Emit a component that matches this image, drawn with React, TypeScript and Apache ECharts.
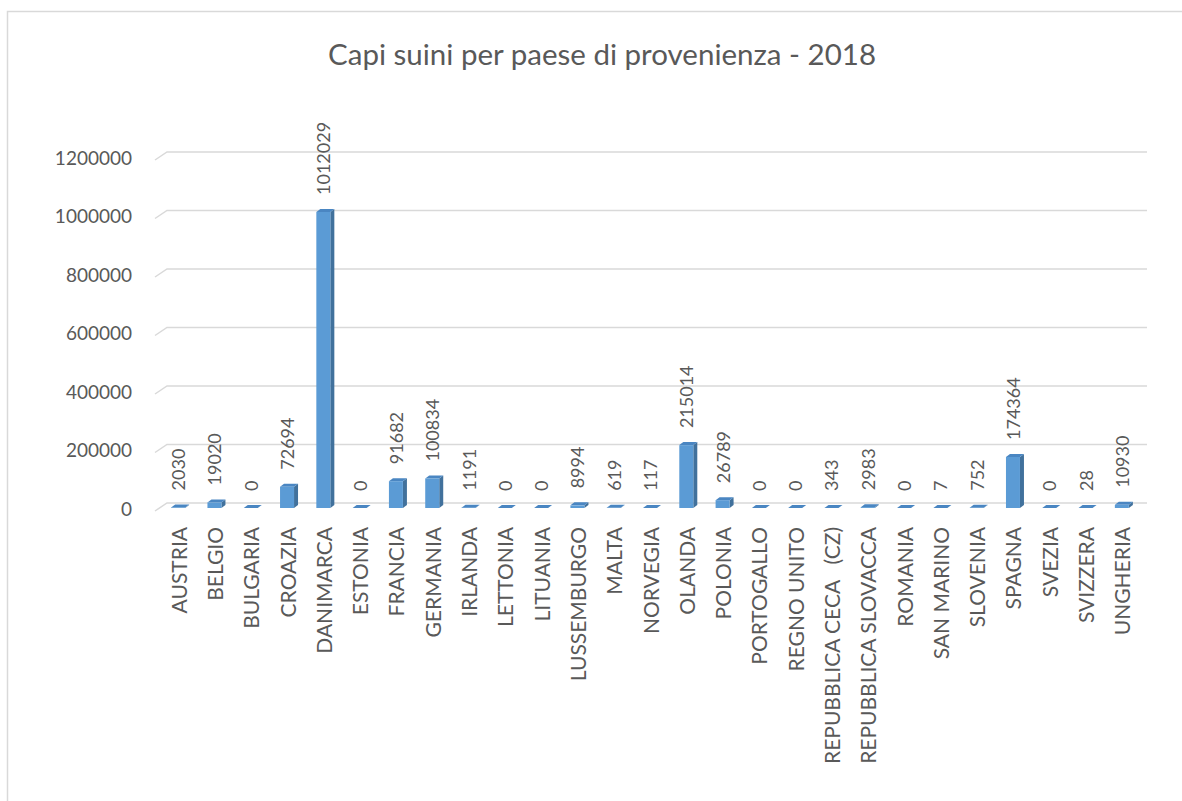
import React, { useEffect, useRef } from "react";
import * as echarts from "echarts";

const titleText = "Capi suini per paese di provenienza - 2018";

const categories = [
  "AUSTRIA", "BELGIO", "BULGARIA", "CROAZIA", "DANIMARCA", "ESTONIA", "FRANCIA",
  "GERMANIA", "IRLANDA", "LETTONIA", "LITUANIA", "LUSSEMBURGO", "MALTA", "NORVEGIA",
  "OLANDA", "POLONIA", "PORTOGALLO", "REGNO UNITO", "REPUBBLICA CECA   (CZ)",
  "REPUBBLICA SLOVACCA", "ROMANIA", "SAN MARINO", "SLOVENIA", "SPAGNA", "SVEZIA",
  "SVIZZERA", "UNGHERIA",
];

const values = [
  2030, 19020, 0, 72694, 1012029, 0, 91682,
  100834, 1191, 0, 0, 8994, 619, 117,
  215014, 26789, 0, 0, 343,
  2983, 0, 7, 752, 174364, 0,
  28, 10930,
];

const yTicks = [0, 200000, 400000, 600000, 800000, 1000000, 1200000];
const yMin = 0;
const yMax = 1200000;
const yInterval = 200000;

const TEXT = "#595959";
const GRID = "#D9D9D9";
const FRONT = "#5B9BD5";
const SIDE = "#41719C";
const TOP = "#4A86C2";

export default function App() {
  const ref = useRef<HTMLDivElement>(null);

  useEffect(() => {
    if (!ref.current) return;
    const chart = echarts.init(ref.current, null, { renderer: "svg" });
    const hw = 7;
    chart.setOption({
      animation: false,
      backgroundColor: "#ffffff",
      textStyle: { fontFamily: "Lato" },
      graphic: [
        {
          type: "rect",
          silent: true,
          z: -10,
          shape: { x: 7.5, y: 11.5, width: 1300, height: 1000 },
          style: { fill: "none", stroke: GRID, lineWidth: 1.5 },
        },
        {
          type: "text",
          x: 602,
          y: 53,
          style: {
            text: titleText,
            fill: TEXT,
            font: "29.5px Lato",
            textAlign: "center",
            textVerticalAlign: "middle",
          },
        },
      ],
      grid: { left: 160, right: 42, top: 157, bottom: 293, containLabel: false },
      xAxis: {
        type: "category",
        data: categories,
        axisLine: { show: false },
        axisTick: { show: false },
        axisLabel: {
          interval: 0,
          rotate: 90,
          margin: 19,
          color: TEXT,
          fontSize: 21,
          fontFamily: "Lato",
          padding: [0, 0, 6, 0],
        },
      },
      yAxis: {
        type: "value",
        min: yMin,
        max: yMax,
        interval: yInterval,
        axisLine: { show: false },
        axisTick: { show: false },
        splitLine: { show: false },
        axisLabel: {
          margin: 28,
          color: TEXT,
          fontSize: 19,
          fontFamily: "Lato",
          padding: [8, 0, 0, 0],
          formatter: (v: number) => String(v),
        },
      },
      series: [
        {
          type: "custom",
          z: 1,
          silent: true,
          data: yTicks.map((v) => [0, v]),
          encode: { x: 0, y: 1 },
          renderItem: (params: any, api: any) => {
            const y = api.coord([0, api.value(1)])[1];
            const cs = params.coordSys;
            return {
              type: "polyline",
              shape: {
                points: [
                  [cs.x - 5, y + 3],
                  [cs.x + 7, y - 5],
                  [cs.x + cs.width + 7, y - 5],
                ],
              },
              style: { stroke: GRID, lineWidth: 1.5, fill: "none" },
            };
          },
        },
        {
          type: "bar",
          z: 3,
          data: values,
          barWidth: 14,
          itemStyle: { color: FRONT },
          label: {
            show: true,
            position: "top",
            rotate: 90,
            align: "left",
            verticalAlign: "middle",
            distance: 17,
            color: TEXT,
            fontSize: 18,
            fontFamily: "Lato",
          },
        },
        {
          type: "custom",
          z: 3,
          silent: true,
          data: values.map((v, i) => [i, v]),
          encode: { x: 0, y: 1 },
          renderItem: (params: any, api: any) => {
            const i = api.value(0);
            const v = api.value(1);
            const top = api.coord([i, v]);
            const base = api.coord([i, 0]);
            const cx = top[0];
            const yt = top[1];
            const yb = base[1];
            return {
              type: "group",
              children: [
                {
                  type: "polygon",
                  shape: {
                    points: [
                      [cx + hw, yt],
                      [cx + hw + 4, yt - 3],
                      [cx + hw + 4, yb - 3],
                      [cx + hw, yb],
                    ],
                  },
                  style: { fill: SIDE },
                },
                {
                  type: "polygon",
                  shape: {
                    points: [
                      [cx - hw, yt],
                      [cx + hw, yt],
                      [cx + hw + 4, yt - 3],
                      [cx - hw + 4, yt - 3],
                    ],
                  },
                  style: { fill: TOP },
                },
              ],
            };
          },
        },
      ],
    });
    return () => chart.dispose();
  }, []);

  return (
    <div
      ref={ref}
      style={{ position: "fixed", left: 0, top: 0, width: 1182, height: 801 }}
    />
  );
}
